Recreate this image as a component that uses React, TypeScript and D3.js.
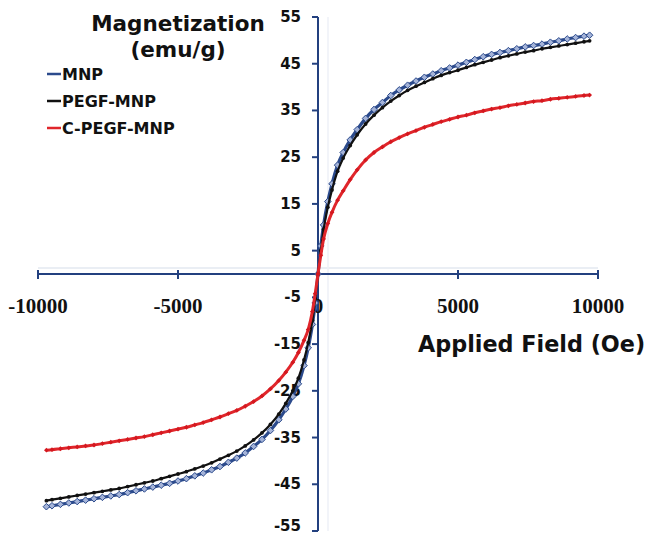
import React from "react";
import * as d3 from "d3";

const fields = [-9700,-9500,-9200,-8900,-8600,-8300,-8000,-7700,-7400,-7100,-6800,-6500,-6200,-5900,-5600,-5300,-5000,-4700,-4400,-4100,-3800,-3500,-3200,-2900,-2600,-2300,-2000,-1700,-1400,-1150,-900,-700,-500,-350,-200,-100,0,100,200,350,500,700,900,1150,1400,1700,2000,2300,2600,2900,3200,3500,3800,4100,4400,4700,5000,5300,5600,5900,6200,6500,6800,7100,7400,7700,8000,8300,8600,8900,9200,9500,9700];

const mnp = [-49.8,-49.6,-49.3,-49.0,-48.7,-48.4,-48.1,-47.8,-47.5,-47.2,-46.8,-46.4,-46.0,-45.6,-45.2,-44.8,-44.3,-43.8,-43.2,-42.6,-41.9,-41.2,-40.3,-39.4,-38.3,-36.9,-35.4,-33.5,-31.2,-28.9,-26.2,-23.5,-19.6,-15.8,-10.8,-6.2,0,6,10.5,15.5,19.3,23.3,26.0,28.7,30.9,33.3,35.2,36.7,38.2,39.4,40.4,41.3,42.1,42.8,43.5,44.1,44.7,45.3,45.9,46.5,47.0,47.4,47.8,48.2,48.6,48.9,49.2,49.6,49.9,50.3,50.6,50.9,51.1];

const pegf = [-48.5,-48.3,-48.0,-47.7,-47.4,-47.1,-46.8,-46.5,-46.2,-45.9,-45.5,-45.1,-44.7,-44.3,-43.8,-43.3,-42.8,-42.3,-41.7,-41.1,-40.4,-39.6,-38.8,-37.9,-36.8,-35.5,-34.0,-32.2,-30.0,-27.7,-25.0,-22.3,-18.4,-14.7,-9.9,-5.3,0,5,9.5,14.3,18.0,22.0,24.8,27.5,29.8,32.1,34.0,35.6,37.0,38.2,39.3,40.2,41.0,41.8,42.5,43.1,43.6,44.2,44.8,45.3,45.8,46.3,46.7,47.1,47.5,47.8,48.2,48.5,48.8,49.1,49.4,49.7,49.9];

const cpegf = [-37.7,-37.6,-37.4,-37.2,-37.0,-36.8,-36.6,-36.3,-36.0,-35.7,-35.4,-35.1,-34.8,-34.4,-34.0,-33.6,-33.2,-32.8,-32.3,-31.8,-31.2,-30.6,-29.9,-29.2,-28.3,-27.3,-26.1,-24.6,-22.8,-21.0,-18.9,-16.8,-14.2,-11.9,-8.0,-4.2,0,4,7.5,10.8,13.2,15.8,17.8,20.2,22.3,24.4,26.0,27.2,28.3,29.2,30.0,30.7,31.4,32.0,32.6,33.1,33.6,34.0,34.5,34.9,35.3,35.6,36.0,36.3,36.6,36.9,37.1,37.4,37.6,37.8,38.0,38.2,38.3];

const xTicks = [-10000, -5000, 0, 5000, 10000];
const yTicks = [-55, -45, -35, -25, -15, -5, 5, 15, 25, 35, 45, 55];
const seriesNames = ["MNP", "PEGF-MNP", "C-PEGF-MNP"];

const W = 651, H = 537;
const AXIS = "#23407f";
const SANS = "'DejaVu Sans', Verdana, sans-serif";
const SERIF = "'Liberation Serif', 'Times New Roman', serif";

export default function App() {
  const x = d3.scaleLinear().domain([-10000, 10000]).range([38, 598]);
  const y = d3.scaleLinear().domain([-55, 55]).range([531, 17]);
  const x0 = x(0);
  const y0 = y(0);

  const mk = (vals: number[]) => fields.map((f, i) => [f, vals[i]] as [number, number]);
  const line = d3.line<[number, number]>().x(d => x(d[0])).y(d => y(d[1])).curve(d3.curveMonotoneX);

  const sBlue = mk(mnp);
  const sBlack = mk(pegf);
  const sRed = mk(cpegf);

  const diamond = (cx: number, cy: number, r: number) =>
    `M${cx},${cy - r}L${cx + r},${cy}L${cx},${cy + r}L${cx - r},${cy}Z`;

  const legendY = [80, 107, 134];
  const legendColors = ["#2b4a8c", "#111111", "#e0262b"];

  return (
    <svg width={W} height={H} style={{ position: "absolute", left: 0, top: 0, background: "#fff" }}>
      <rect x={0} y={0} width={W} height={H} fill="#ffffff" />
      {/* faint guide lines */}
      <line x1={38} x2={598} y1={y0 - 6} y2={y0 - 6} stroke="#e3e8f1" strokeWidth={1.5} />
      <line x1={x0 + 10} x2={x0 + 10} y1={17} y2={531} stroke="#eef1f7" strokeWidth={1.5} />

      {/* axes */}
      <line x1={x(-10000)} x2={x(10000)} y1={y0} y2={y0} stroke={AXIS} strokeWidth={2} />
      <line x1={x0} x2={x0} y1={y(55)} y2={y(-55)} stroke={AXIS} strokeWidth={2} />
      {xTicks.map(t => (
        <line key={"xt" + t} x1={x(t)} x2={x(t)} y1={y0 - 4} y2={y0 + 5} stroke={AXIS} strokeWidth={2} />
      ))}
      {yTicks.map(t => (
        <line key={"yt" + t} x1={x0 - 6} x2={x0} y1={y(t)} y2={y(t)} stroke={AXIS} strokeWidth={2} />
      ))}
      {yTicks.map(t => (
        <text key={"yl" + t} x={301} y={Math.min(y(t) + 5, 531)} textAnchor="end" fontFamily={SANS} fontWeight="bold" fontSize={15} fill="#111">
          {t}
        </text>
      ))}
      {xTicks.map(t => (
        <text key={"xl" + t} x={x(t)} y={313} textAnchor="middle" fontFamily={SERIF} fontWeight="bold" fontSize={21} fill="#111">
          {t}
        </text>
      ))}

      {/* series */}
      <path d={line(sBlue) || ""} fill="none" stroke="#2b4a8c" strokeWidth={3.2} />
      {sBlue.map((d, i) => (
        <path key={"b" + i} d={diamond(x(d[0]), y(d[1]), 3.3)} fill="#a4b3d8" stroke="#2b4a8c" strokeWidth={1} />
      ))}
      <path d={line(sBlack) || ""} fill="none" stroke="#111" strokeWidth={2.2} />
      {sBlack.map((d, i) => (
        <circle key={"k" + i} cx={x(d[0])} cy={y(d[1])} r={1.9} fill="#111" />
      ))}
      <path d={line(sRed) || ""} fill="none" stroke="#e0262b" strokeWidth={3} />
      {sRed.map((d, i) => (
        <path key={"r" + i} d={diamond(x(d[0]), y(d[1]), 2.4)} fill="#d4181f" />
      ))}

      {/* titles */}
      <text x={178} y={31} textAnchor="middle" fontFamily={SANS} fontWeight="bold" fontSize={21.5} fill="#111">Magnetization</text>
      <text x={178} y={57} textAnchor="middle" fontFamily={SANS} fontWeight="bold" fontSize={21.5} fill="#111">(emu/g)</text>
      <text x={418} y={352} fontFamily={SANS} fontWeight="bold" fontSize={22.3} fill="#111">Applied Field (Oe)</text>

      {/* legend */}
      {seriesNames.map((n, i) => (
        <g key={n}>
          <line x1={47} x2={61} y1={legendY[i] - 6} y2={legendY[i] - 6} stroke={legendColors[i]} strokeWidth={2.5} />
          <text x={62} y={legendY[i]} fontFamily={SANS} fontWeight="bold" fontSize={16} fill="#111">{n}</text>
        </g>
      ))}
    </svg>
  );
}
